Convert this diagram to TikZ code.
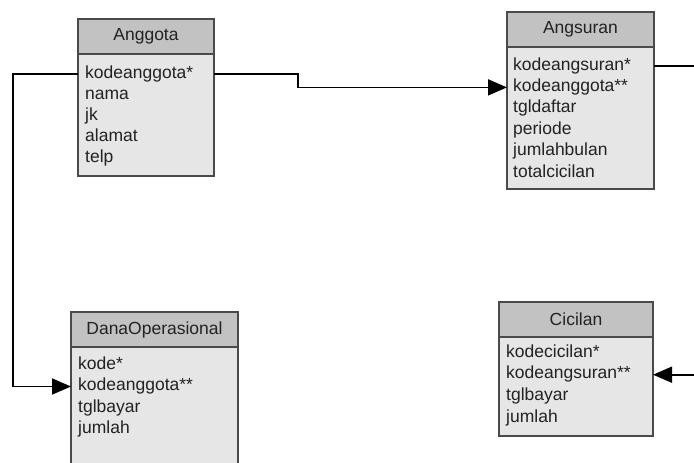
\documentclass[tikz,border=0pt]{standalone}
\usepackage{fontspec}
\setmainfont{Liberation Sans}
\usetikzlibrary{arrows.meta,positioning}

\definecolor{boxline}{HTML}{4A4A4A}
\definecolor{titlegray}{HTML}{C2C2C2}
\definecolor{bodygray}{HTML}{E6E6E6}
\definecolor{inktext}{HTML}{222222}

\tikzset{
  titlebox/.style={draw=boxline, fill=titlegray, line width=1.6pt, outer sep=0pt,
    minimum height=35, text=inktext, font=\fontsize{17.5}{21}\selectfont},
  bodybox/.style={draw=boxline, fill=bodygray, line width=1.6pt, outer sep=0pt},
  rowtext/.style={inner sep=0pt, text height=12pt, text depth=4pt, text=inktext,
    font=\fontsize{17.5}{21}\selectfont, anchor=base west},
  link/.style={line width=1.8pt, black},
  tip/.style={-{Triangle[length=19pt,width=16pt]}}
}

\begin{document}
\begin{tikzpicture}[x=1pt, y=-1pt]
    \useasboundingbox (0,0) rectangle (694,463);
    \clip (0,0) rectangle (694,463);

    % Tables
    \node[titlebox, minimum width=136, anchor=north west] (anggota) at (78,19) {Anggota};
    \node[bodybox, minimum width=136, minimum height=122, anchor=north west] (anggota-body) at (anggota.south west) {};
    \foreach \t [count=\i] in {kodeanggota*, nama, jk, alamat, telp}
        \node[rowtext] (anggota-\i) at (85,{78+21*(\i-1)}) {\t};

    \node[titlebox, minimum width=147, anchor=north west] (angsuran) at (507,12) {Angsuran};
    \node[bodybox, minimum width=147, minimum height=142, anchor=north west] (angsuran-body) at (angsuran.south west) {};
    \foreach \t [count=\i] in {kodeangsuran*, kodeanggota**, tgldaftar, periode, jumlahbulan, totalcicilan}
        \node[rowtext] (angsuran-\i) at (513,{70+21.4*(\i-1)}) {\t};

    \node[titlebox, minimum width=167, anchor=north west] (dana) at (71,312) {DanaOperasional};
    \node[bodybox, minimum width=167, minimum height=130, anchor=north west] (dana-body) at (dana.south west) {};
    \foreach \t [count=\i] in {kode*, kodeanggota**, tglbayar, jumlah}
        \node[rowtext] (dana-\i) at (78,{369+21.5*(\i-1)}) {\t};

    \node[titlebox, minimum width=154, anchor=north west] (cicilan) at (499,302) {Cicilan};
    \node[bodybox, minimum width=154, minimum height=99, anchor=north west] (cicilan-body) at (cicilan.south west) {};
    \foreach \t [count=\i] in {kodecicilan*, kodeangsuran**, tglbayar, jumlah}
        \node[rowtext] (cicilan-\i) at (506,{357+21.7*(\i-1)}) {\t};

    % Relations
    \coordinate (edgeR) at (710,0);
    \draw[link, tip] (anggota-1.west -| anggota-body.west) -- ++(-65,0) |- (dana-2.west -| dana-body.west);
    \draw[link, tip] (anggota-1.east -| anggota-body.east) -- ++(84,0) |- (angsuran-2.west -| angsuran-body.west);
    \draw[link, tip] (angsuran-1.east -| angsuran-body.east) -| (edgeR |- cicilan-2.east) -- (cicilan-2.east -| cicilan-body.east);
\end{tikzpicture}
\end{document}
